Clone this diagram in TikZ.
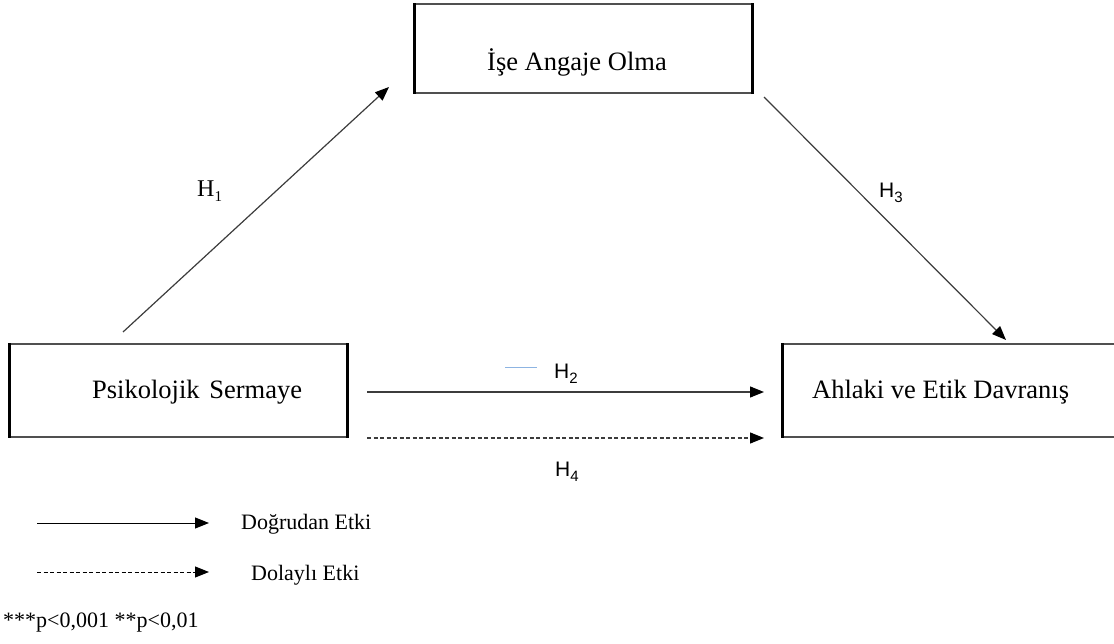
\documentclass[tikz,border=0pt]{standalone}
\usepackage{fontspec}
\setmainfont{Liberation Serif}
\newfontfamily\hsans{Liberation Sans}
\usetikzlibrary{arrows.meta}
\definecolor{edgegray}{HTML}{505050}
\definecolor{linegray}{HTML}{3C3C3C}
\definecolor{paleblue}{HTML}{8DB4E2}
\newcommand{\hsub}[2]{#1\raisebox{-5pt}{\fontsize{15}{15}\selectfont #2}}
\tikzset{
  box/.style={draw=edgegray, line width=1.3pt, minimum width=337pt, inner sep=0pt},
  sidebar/.style={draw=black, line width=3.6pt},
  boxtext/.style={inner sep=0pt, anchor=base west, font=\fontsize{26.5}{30}\selectfont},
  legtext/.style={inner sep=0pt, anchor=base west, font=\fontsize{22}{26}\selectfont},
  hlab/.style={inner sep=0pt, anchor=base west, font=\hsans\fontsize{21}{24}\selectfont},
  hlabserif/.style={inner sep=0pt, anchor=base west, font=\fontsize{24}{28}\selectfont},
  conn/.style={draw=linegray, line width=1.2pt, -{Triangle[length=14pt,width=11pt,color=black]}},
  dconn/.style={conn, dash pattern=on 4pt off 2.5pt},
}
\begin{document}
\begin{tikzpicture}[x=1pt,y=-1pt]
\useasboundingbox (0,0) rectangle (1114,644);
% boxes
\node[box, minimum height=89pt] (eng) at (583.5,48.5) {};
\draw[sidebar] (eng.north west) -- (eng.south west);
\draw[sidebar] (eng.north east) -- (eng.south east);
\node[boxtext] (engt) at (487,71) {İşe Angaje Olma};

\node[box, minimum height=93pt] (psy) at (178.5,390.5) {};
\draw[sidebar] (psy.north west) -- (psy.south west);
\draw[sidebar] (psy.north east) -- (psy.south east);
\node[boxtext] (psyt) at (92,399) {Psikolojik\hspace{3pt} Sermaye};

\begin{scope}
\clip (0,0) rectangle (1114,644);
\node[box, minimum height=93pt] (eth) at (951.5,390.5) {};
\draw[sidebar] (eth.north west) -- (eth.south west);
\end{scope}
\node[boxtext] (etht) at (812,398) {Ahlaki ve Etik Davranış};

% connector end points
\coordinate (h1s) at (123,332);
\coordinate (h1e) at (389,87);
\coordinate (h3s) at (764,97);
\coordinate (h3e) at (1006,340);
\coordinate (h2s) at (367,392);
\coordinate (h2e) at (764,392);
\coordinate (h4s) at (367,438);
\coordinate (h4e) at (764,438);

\draw[conn] (h1s) -- (h1e);
\draw[conn] (h3s) -- (h3e);
\draw[conn] (h2s) -- (h2e);
\draw[dconn] (h4s) -- (h4e);

% labels
\node[hlabserif] (lh1) at (197,197) {\hsub{H}{1}};
\node[hlab] (lh3) at (879,198) {\hsub{H}{3}};
\node[hlab] (lh2) at (554,378) {\hsub{H}{2}};
\node[hlab] (lh4) at (555,476) {\hsub{H}{4}};
\coordinate (bl1) at (505,367);
\coordinate (bl2) at (537,367);
\draw[paleblue, line width=1pt] (bl1) -- (bl2);

% legend
\coordinate (l1s) at (37,523);
\coordinate (l1e) at (209,523);
\coordinate (l2s) at (37,572);
\coordinate (l2e) at (209,572);
\draw[conn, draw=black, line width=1pt] (l1s) -- (l1e);
\draw[dconn, draw=black, line width=1pt] (l2s) -- (l2e);
\node[legtext] (lg1) at (241,529) {Doğrudan Etki};
\node[legtext] (lg2) at (251,580) {Dolaylı Etki};
\node[legtext] (note) at (3,627) {***p<0,001 **p<0,01};
\end{tikzpicture}
\end{document}
